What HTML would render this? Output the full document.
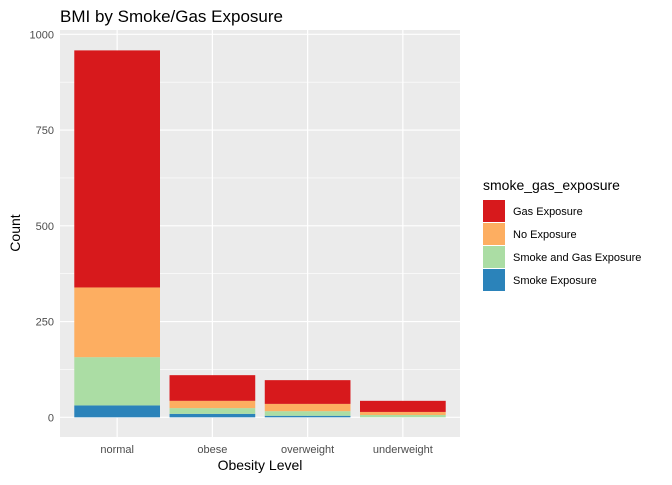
<!DOCTYPE html>
<html><head><meta charset="utf-8"><style>
body{margin:0;background:#fff;font-family:"Liberation Sans",Arial,sans-serif}
svg text{font-family:"Liberation Sans",Arial,sans-serif}
</style></head><body>
<svg id="c" width="672" height="480" xmlns="http://www.w3.org/2000/svg">
<rect width="672" height="480" fill="#fff"/>
<text x="60" y="22" font-size="17" fill="#000">BMI by Smoke/Gas Exposure</text>
<rect x="60" y="30" width="400" height="407" fill="#ebebeb"/>
<g id="grid"></g><g id="bars"></g><g id="axes"></g>
<text x="260" y="470" font-size="14" text-anchor="middle">Obesity Level</text>
<text x="20" y="233" font-size="14" text-anchor="middle" transform="rotate(-90 20 233)">Count</text>
<g id="legend"></g>
</svg>
<script>
const categories=["normal","obese","overweight","underweight"];
const seriesNames=["Gas Exposure","No Exposure","Smoke and Gas Exposure","Smoke Exposure"];
const gasExposure=[619,67,62,29];
const noExposure=[182,19,19,8];
const smokeGas=[126,15,12,6];
const smokeExposure=[31,9,4,0];
const yTicks=[0,250,500,750,1000];
const colors=["#d7191c","#fdae61","#abdda4","#2b83ba"];
const NS="http://www.w3.org/2000/svg";
const svg=document.getElementById('c');
function el(t,a,p){const e=document.createElementNS(NS,t);for(const k in a)e.setAttribute(k,a[k]);(p||svg).appendChild(e);return e;}
const x0=60,pw=400,y0=417.3,k=0.383;
const y=v=>y0-v*k;
const step=pw/(categories.length+0.2);
const xc=i=>x0+step*(0.6+i);
const bw=step*0.9;
const grid=document.getElementById('grid');
for(let i=0;i<yTicks.length-1;i++){const m=(yTicks[i]+yTicks[i+1])/2;const l=el('line',{x1:x0,x2:x0+pw,y1:y(m),y2:y(m),stroke:'#fff','stroke-width':0.6},grid);}
yTicks.forEach(t=>{const l=el('line',{x1:x0,x2:x0+pw,y1:y(t),y2:y(t),stroke:'#fff','stroke-width':1.2},grid);
const tx=el('text',{x:x0-6,y:y(t)+4,'font-size':11,fill:'#4d4d4d','text-anchor':'end'},document.getElementById('axes'));tx.textContent=t;});
categories.forEach((c,i)=>{const l=el('line',{x1:xc(i),x2:xc(i),y1:30,y2:437,stroke:'#fff','stroke-width':1.2},grid);
const tx=el('text',{x:xc(i),y:453,'font-size':11,fill:'#4d4d4d','text-anchor':'middle'},document.getElementById('axes'));tx.textContent=c;});
const series=[smokeExposure,smokeGas,noExposure,gasExposure];
const scol=[colors[3],colors[2],colors[1],colors[0]];
const bars=document.getElementById('bars');
categories.forEach((c,i)=>{let acc=0;series.forEach((s,j)=>{const v=s[i];const r=el('rect',{x:xc(i)-bw/2,y:y(acc+v),width:bw,height:v*k,fill:scol[j]},bars);acc+=v;});});
const lg=document.getElementById('legend');
const lt=el('text',{x:483,y:190,'font-size':14},lg);lt.textContent='smoke_gas_exposure';
seriesNames.forEach((n,i)=>{const yy=200+i*23;const r=el('rect',{x:483,y:yy,width:22,height:22,fill:colors[i]},lg);
const t=el('text',{x:513,y:yy+15,'font-size':11},lg);t.textContent=n;});
</script>
</body></html>
